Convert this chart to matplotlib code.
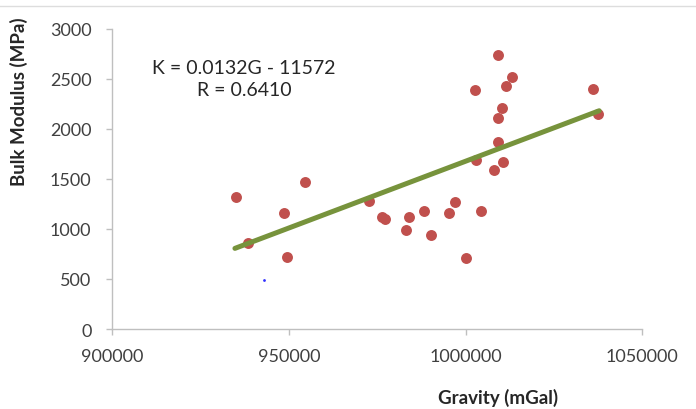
import numpy as np
import matplotlib.pyplot as plt
from matplotlib.lines import Line2D

# gravity (mGal) and bulk modulus (MPa)
gravity = [934900, 954600, 948600, 938500, 949500, 972700, 976400, 977200,
           984100, 988300, 983100, 990100, 997000, 995200, 1000000, 1004400,
           1008000, 1009300, 1002900, 1010700, 1009300, 1010400, 1002700,
           1011400, 1013100, 1009300, 1036000, 1037600]
modulus = [1315, 1464, 1155, 855, 716, 1274, 1115, 1098,
           1115, 1181, 991, 941, 1270, 1155, 712, 1181,
           1590, 1869, 1690, 1670, 2109, 2209, 2388,
           2428, 2520, 2732, 2397, 2151]

# stray blue point
blue_x = [942950]
blue_y = [494]

# trend line end points
trend_x = [934700, 1037800]
trend_y = [805, 2179]

xticks = [900000, 950000, 1000000, 1050000]
yticks = [0, 500, 1000, 1500, 2000, 2500, 3000]

plt.rcParams['font.family'] = ['Lato', 'DejaVu Sans']

fig = plt.figure(figsize=(6.96, 4.10), dpi=100)
ax = fig.add_axes([0.1614, 0.1951, 0.7614, 0.7329])

ax.scatter(gravity, modulus, s=62, color='#C0504D', zorder=3, linewidths=0)
ax.plot(trend_x, trend_y, color='#77933C', lw=3.6, solid_capstyle='round', zorder=4)
ax.scatter(blue_x, blue_y, s=4, color='#3030FF', zorder=5, linewidths=0)

ax.set_xlim(900000, 1050000)
ax.set_ylim(0, 3000)
ax.set_xticks(xticks)
ax.set_yticks(yticks)
ax.set_xticklabels([str(v) for v in xticks])
ax.set_yticklabels([str(v) for v in yticks])

for s in ['top', 'right']:
	ax.spines[s].set_visible(False)
for s in ['left', 'bottom']:
	ax.spines[s].set_color('#BFBFBF')
	ax.spines[s].set_linewidth(1.0)
ax.tick_params(direction='out', length=4, width=1.0, color='#BFBFBF',
               labelcolor='#404040', labelsize=13)
ax.tick_params(axis='x', pad=10)
ax.tick_params(axis='y', pad=11)

ax.text(244 / 696, 1 - 68 / 410, 'K = 0.0132G - 11572', transform=fig.transFigure,
        ha='center', va='center', fontsize=14, color='#262626')
ax.text(244 / 696, 1 - 90 / 410, 'R = 0.6410', transform=fig.transFigure,
        ha='center', va='center', fontsize=14, color='#262626')

fig.text(498 / 696, 1 - 398 / 410, 'Gravity (mGal)', ha='center', va='center',
         fontsize=13.5, fontweight='bold', color='#262626')
fig.text(19 / 696, 1 - 102 / 410, 'Bulk Modulus (MPa)', ha='center', va='center',
         rotation=90, fontsize=13.5, fontweight='bold', color='#262626')

fig.add_artist(Line2D([0, 1], [1 - 7 / 410, 1 - 7 / 410], transform=fig.transFigure,
                      color='#DDDDDD', lw=1))

plt.savefig('out.png', dpi=100)
plt.close()
